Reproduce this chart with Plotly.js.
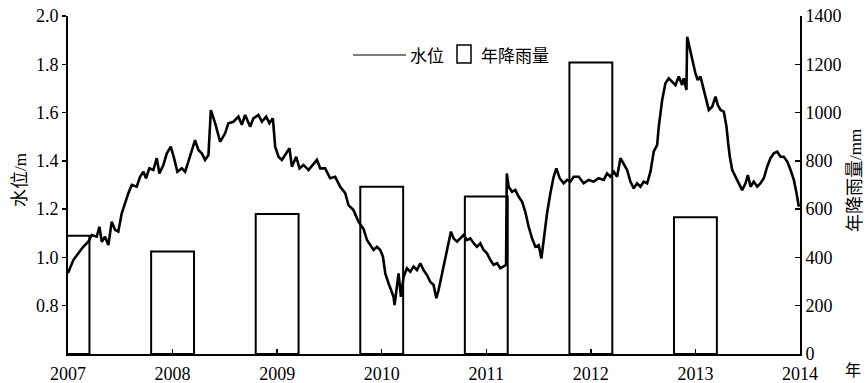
<!DOCTYPE html>
<html>
<head>
<meta charset="utf-8">
<script src="https://cdn.plot.ly/plotly-3.0.1.min.js"></script>
<style>
  html, body { margin: 0; padding: 0; background: #fff; }
  #chart { width: 866px; height: 383px; }
</style>
</head>
<body>
<div id="chart"></div>
<script>
// Groundwater level (m), decimal year vs. value
const levelYear = [
  2007.000, 2007.051, 2007.099, 2007.146, 2007.194, 2007.227, 2007.275, 2007.300, 2007.323, 2007.354,
  2007.386, 2007.418, 2007.450, 2007.481, 2007.514, 2007.545, 2007.577, 2007.610, 2007.657, 2007.689,
  2007.721, 2007.746, 2007.778, 2007.816, 2007.849, 2007.874, 2007.912, 2007.945, 2007.983, 2008.014,
  2008.046, 2008.088, 2008.120, 2008.151, 2008.184, 2008.215, 2008.247, 2008.279, 2008.311, 2008.343,
  2008.366, 2008.407, 2008.455, 2008.502, 2008.534, 2008.582, 2008.630, 2008.662, 2008.694, 2008.742,
  2008.773, 2008.821, 2008.854, 2008.895, 2008.926, 2008.959, 2008.981, 2009.013, 2009.045, 2009.077,
  2009.118, 2009.141, 2009.182, 2009.214, 2009.252, 2009.300, 2009.348, 2009.380, 2009.412, 2009.459,
  2009.507, 2009.555, 2009.603, 2009.651, 2009.682, 2009.730, 2009.778, 2009.826, 2009.859, 2009.890,
  2009.922, 2009.954, 2009.986, 2010.012, 2010.034, 2010.065, 2010.088, 2010.113, 2010.123, 2010.146,
  2010.161, 2010.184, 2010.209, 2010.241, 2010.273, 2010.305, 2010.337, 2010.369, 2010.400, 2010.433,
  2010.464, 2010.496, 2010.522, 2010.544, 2010.576, 2010.608, 2010.639, 2010.662, 2010.687, 2010.720,
  2010.751, 2010.783, 2010.816, 2010.847, 2010.879, 2010.911, 2010.943, 2010.974, 2011.007, 2011.039,
  2011.070, 2011.103, 2011.134, 2011.166, 2011.189, 2011.196, 2011.214, 2011.246, 2011.278, 2011.309,
  2011.342, 2011.373, 2011.405, 2011.438, 2011.469, 2011.501, 2011.527, 2011.549, 2011.581, 2011.613,
  2011.644, 2011.670, 2011.702, 2011.740, 2011.773, 2011.804, 2011.836, 2011.884, 2011.931, 2011.979,
  2012.027, 2012.075, 2012.123, 2012.155, 2012.187, 2012.219, 2012.251, 2012.283, 2012.314, 2012.347,
  2012.378, 2012.410, 2012.442, 2012.474, 2012.506, 2012.538, 2012.570, 2012.601, 2012.634, 2012.649,
  2012.682, 2012.713, 2012.745, 2012.777, 2012.809, 2012.841, 2012.873, 2012.888, 2012.914, 2012.921,
  2012.953, 2012.978, 2013.000, 2013.022, 2013.048, 2013.074, 2013.096, 2013.128, 2013.160, 2013.192,
  2013.214, 2013.240, 2013.271, 2013.297, 2013.313, 2013.329, 2013.352, 2013.383, 2013.415, 2013.447,
  2013.479, 2013.501, 2013.527, 2013.558, 2013.591, 2013.622, 2013.654, 2013.686, 2013.718, 2013.750,
  2013.782, 2013.814, 2013.845, 2013.878, 2013.910, 2013.941, 2013.967, 2013.989
];
const levelValue = [
  0.935, 0.989, 1.017, 1.044, 1.065, 1.093, 1.086, 1.127, 1.065, 1.086,
  1.051, 1.148, 1.114, 1.107, 1.183, 1.224, 1.266, 1.300, 1.293, 1.334,
  1.355, 1.328, 1.369, 1.362, 1.411, 1.348, 1.383, 1.431, 1.459, 1.411,
  1.355, 1.369, 1.355, 1.397, 1.445, 1.486, 1.445, 1.431, 1.404, 1.424,
  1.610, 1.556, 1.479, 1.514, 1.556, 1.562, 1.583, 1.549, 1.590, 1.541,
  1.576, 1.590, 1.562, 1.583, 1.556, 1.576, 1.459, 1.417, 1.404, 1.424,
  1.452, 1.376, 1.417, 1.369, 1.383, 1.362, 1.390, 1.404, 1.369, 1.369,
  1.328, 1.334, 1.293, 1.266, 1.217, 1.196, 1.148, 1.118, 1.072, 1.051,
  1.031, 1.044, 1.031, 1.003, 0.934, 0.893, 0.865, 0.837, 0.803, 0.893,
  0.934, 0.837, 0.920, 0.955, 0.941, 0.962, 0.948, 0.976, 0.948, 0.927,
  0.899, 0.886, 0.831, 0.865, 0.934, 1.003, 1.059, 1.107, 1.079, 1.065,
  1.079, 1.093, 1.072, 1.079, 1.059, 1.044, 1.059, 1.031, 1.017, 0.989,
  0.969, 0.976, 0.955, 0.962, 0.969, 1.348, 1.293, 1.272, 1.279, 1.252,
  1.231, 1.189, 1.127, 1.079, 1.044, 1.051, 0.996, 1.072, 1.183, 1.266,
  1.334, 1.369, 1.328, 1.307, 1.321, 1.314, 1.334, 1.334, 1.307, 1.321,
  1.314, 1.328, 1.321, 1.348, 1.334, 1.355, 1.334, 1.411, 1.390, 1.362,
  1.314, 1.286, 1.307, 1.293, 1.314, 1.307, 1.355, 1.438, 1.466, 1.540,
  1.652, 1.721, 1.742, 1.728, 1.714, 1.749, 1.714, 1.742, 1.694, 1.914,
  1.845, 1.804, 1.762, 1.735, 1.749, 1.707, 1.666, 1.611, 1.624, 1.666,
  1.631, 1.611, 1.604, 1.542, 1.473, 1.417, 1.362, 1.334, 1.307, 1.279,
  1.307, 1.341, 1.293, 1.314, 1.293, 1.307, 1.328, 1.376, 1.411, 1.431,
  1.438, 1.417, 1.417, 1.397, 1.362, 1.321, 1.266, 1.210
];

// Annual rainfall (mm)
const rainYear = [2007, 2008, 2009, 2010, 2011, 2012, 2013];
const rainValue = [490, 425, 580, 693, 652, 1207, 566];

// Axis ticks
const xTickYears = [2007, 2008, 2009, 2010, 2011, 2012, 2013, 2014];
const xTickText = ['2007', '2008', '2009', '2010', '2011', '2012', '2013', '2014'];
const levelTicks = [0.8, 1.0, 1.2, 1.4, 1.6, 1.8, 2.0];
const rainTicks = [0, 200, 400, 600, 800, 1000, 1200, 1400];

const serif = '"Liberation Serif", "DejaVu Serif", serif';
const cjk = '"Noto Sans CJK SC", sans-serif';

const rainTrace = {
  type: 'bar',
  x: rainYear,
  y: rainValue,
  yaxis: 'y',
  width: 0.41,
  marker: { color: 'rgba(255,255,255,0)', line: { color: '#000', width: 2 } },
  showlegend: false,
  hoverinfo: 'skip'
};

const levelTrace = {
  type: 'scatter',
  mode: 'lines',
  x: levelYear,
  y: levelValue,
  yaxis: 'y2',
  line: { color: '#000', width: 2.6 },
  showlegend: false,
  hoverinfo: 'skip'
};

const layout = {
  width: 866,
  height: 383,
  margin: { l: 68, r: 66, t: 16, b: 29 },
  paper_bgcolor: '#fff',
  plot_bgcolor: '#fff',
  showlegend: false,
  xaxis: {
    range: [2007, 2014],
    tickvals: xTickYears,
    ticktext: xTickText,
    ticks: 'inside',
    ticklen: 5,
    tickwidth: 1.5,
    tickcolor: '#000',
    showline: true,
    linecolor: '#000',
    linewidth: 2,
    showgrid: false,
    zeroline: false,
    ticklabelstandoff: 2,
    tickfont: { family: serif, size: 18, color: '#000' }
  },
  yaxis: {
    side: 'right',
    range: [0, 1400],
    tickvals: rainTicks,
    ticks: 'inside',
    ticklen: 5,
    tickwidth: 1.5,
    tickcolor: '#000',
    showline: true,
    linecolor: '#000',
    linewidth: 2,
    showgrid: false,
    zeroline: false,
    tickfont: { family: serif, size: 18, color: '#000' }
  },
  yaxis2: {
    overlaying: 'y',
    side: 'left',
    range: [0.6, 2.0],
    tickvals: levelTicks,
    tickformat: '.1f',
    ticks: 'outside',
    ticklen: 4,
    tickwidth: 1.5,
    tickcolor: '#000',
    showline: true,
    linecolor: '#000',
    linewidth: 2,
    showgrid: false,
    zeroline: false,
    tickfont: { family: serif, size: 18, color: '#000' }
  },
  shapes: [
    // legend key: line sample and bar box
    { type: 'line', xref: 'paper', yref: 'paper',
      x0: (353 - 68) / 732, x1: (406 - 68) / 732,
      y0: (354 - 55) / 338, y1: (354 - 55) / 338,
      line: { color: '#000', width: 1.2 } },
    { type: 'rect', xref: 'paper', yref: 'paper',
      x0: (457 - 68) / 732, x1: (471 - 68) / 732,
      y0: (354 - 63) / 338, y1: (354 - 45) / 338,
      line: { color: '#000', width: 1.5 }, fillcolor: 'rgba(0,0,0,0)' }
  ],
  annotations: [
    { text: '水位', xref: 'paper', yref: 'paper', x: (408 - 68) / 732, y: (354 - 54) / 338,
      xanchor: 'left', yanchor: 'middle', showarrow: false,
      font: { family: cjk, size: 17, color: '#000' } },
    { text: '年降雨量', xref: 'paper', yref: 'paper', x: (479 - 68) / 732, y: (354 - 54) / 338,
      xanchor: 'left', yanchor: 'middle', showarrow: false,
      font: { family: cjk, size: 17, color: '#000' } },
    // axis titles
    { text: '水位<span style="font-family:\'Liberation Serif\',serif;font-size:17px">/m</span>',
      xref: 'paper', yref: 'paper', x: (18 - 68) / 732, y: (354 - 180) / 338,
      xanchor: 'center', yanchor: 'middle', textangle: -90, showarrow: false,
      font: { family: cjk, size: 18, color: '#000' } },
    { text: '年降雨量<span style="font-family:\'Liberation Serif\',serif;font-size:17px">/mm</span>',
      xref: 'paper', yref: 'paper', x: (853 - 68) / 732, y: (354 - 180) / 338,
      xanchor: 'center', yanchor: 'middle', textangle: -90, showarrow: false,
      font: { family: cjk, size: 18, color: '#000' } },
    { text: '年', xref: 'paper', yref: 'paper', x: (853 - 68) / 732, y: (354 - 369) / 338,
      xanchor: 'center', yanchor: 'middle', showarrow: false,
      font: { family: cjk, size: 16, color: '#000' } }
  ]
};

Plotly.newPlot('chart', [rainTrace, levelTrace], layout, { staticPlot: true, displayModeBar: false });
</script>
</body>
</html>
